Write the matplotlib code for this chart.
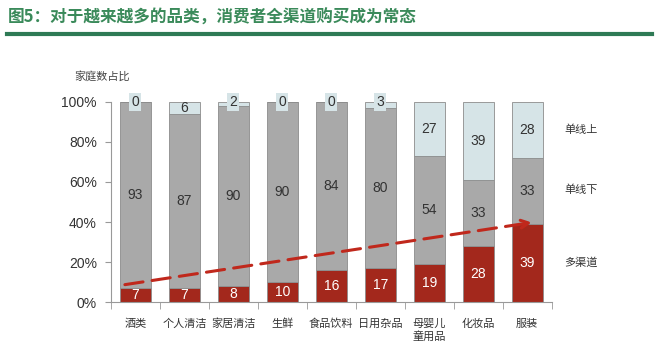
import matplotlib.pyplot as plt
import numpy as np

plt.rcParams['font.family'] = ['Noto Sans CJK SC', 'DejaVu Sans']

categories = ["酒类", "个人清洁", "家居清洁", "生鲜", "食品饮料", "日用杂品", "母婴儿\n童用品", "化妆品", "服装"]
multi = [7, 7, 8, 10, 16, 17, 19, 28, 39]
offline = [93, 87, 90, 90, 84, 80, 54, 33, 33]
online = [0, 6, 2, 0, 0, 3, 27, 39, 28]
series_names = ["单线上", "单线下", "多渠道"]

red = "#a3281c"
grey = "#a9a9a9"
light = "#d6e4e7"
edge = "#8c8c8c"
num_font = ['Liberation Sans', 'DejaVu Sans']

fig = plt.figure(figsize=(6.6, 3.55), dpi=100)
ax = fig.add_axes([0.168, 0.149, 0.668, 0.564])

x = np.arange(len(categories))
w = 0.64
multi = np.array(multi)
offline = np.array(offline)
online = np.array(online)

ax.bar(x, multi, w, color=red, edgecolor=edge, linewidth=0.6)
ax.bar(x, offline, w, bottom=multi, color=grey, edgecolor=edge, linewidth=0.6)
ax.bar(x, online, w, bottom=multi + offline, color=light, edgecolor=edge, linewidth=0.6)

for i in range(len(x)):
    ax.text(x[i], multi[i] / 2, str(multi[i]), ha='center', va='center',
            color='white', fontsize=10, family=num_font)
    ax.text(x[i], multi[i] + offline[i] / 2, str(offline[i]), ha='center', va='center',
            color='#333333', fontsize=10, family=num_font)
    if online[i] >= 5:
        ax.text(x[i], 100 - online[i] / 2, str(online[i]), ha='center', va='center',
                color='#333333', fontsize=10, family=num_font)
    else:
        ax.text(x[i], 100, str(online[i]), ha='center', va='center',
                color='#333333', fontsize=10, family=num_font,
                bbox=dict(boxstyle='square,pad=0.15', fc=light, ec='none'))

# trend arrow
ax.annotate("", xy=(8.15, 40), xytext=(-0.27, 8.5),
            arrowprops=dict(arrowstyle='->', color='#c0281c', lw=2.2,
                            linestyle=(0, (6, 3)), mutation_scale=14))

ax.set_xlim(-0.5, 8.5)
ax.set_ylim(0, 100)
ax.set_yticks([0, 20, 40, 60, 80, 100])
ax.set_yticklabels(["0%", "20%", "40%", "60%", "80%", "100%"], family=num_font, fontsize=10, color='#333333')
ax.set_xticks(x)
ax.set_xticklabels(categories, fontsize=8, color='#333333')
ax.tick_params(axis='x', length=0, pad=12)
ax.set_xticks(np.arange(-0.5, 9, 1), minor=True)
ax.tick_params(axis='x', which='minor', length=5, color='#999999')
ax.tick_params(axis='y', length=4, color='#999999', pad=6)
for s in ['top', 'right']:
    ax.spines[s].set_visible(False)
for s in ['left', 'bottom']:
    ax.spines[s].set_color('#999999')

# series labels on the right
ax.text(8.75, 86, series_names[0], fontsize=8, color='#333333', va='center')
ax.text(8.75, 56, series_names[1], fontsize=8, color='#333333', va='center')
ax.text(8.75, 20, series_names[2], fontsize=8, color='#333333', va='center')

fig.text(0.113, 0.786, "家庭数占比", fontsize=8, color='#444444', va='center')

# title and rule
fig.text(0.012, 0.95, "图5：对于越来越多的品类，消费者全渠道购买成为常态", fontsize=12,
         color='#3a8a5a', fontweight='bold', va='center')
fig.add_artist(plt.Line2D([0.011, 0.988], [0.905, 0.905], color='#2e7a55', lw=3))

fig.savefig("out.png", dpi=100)
